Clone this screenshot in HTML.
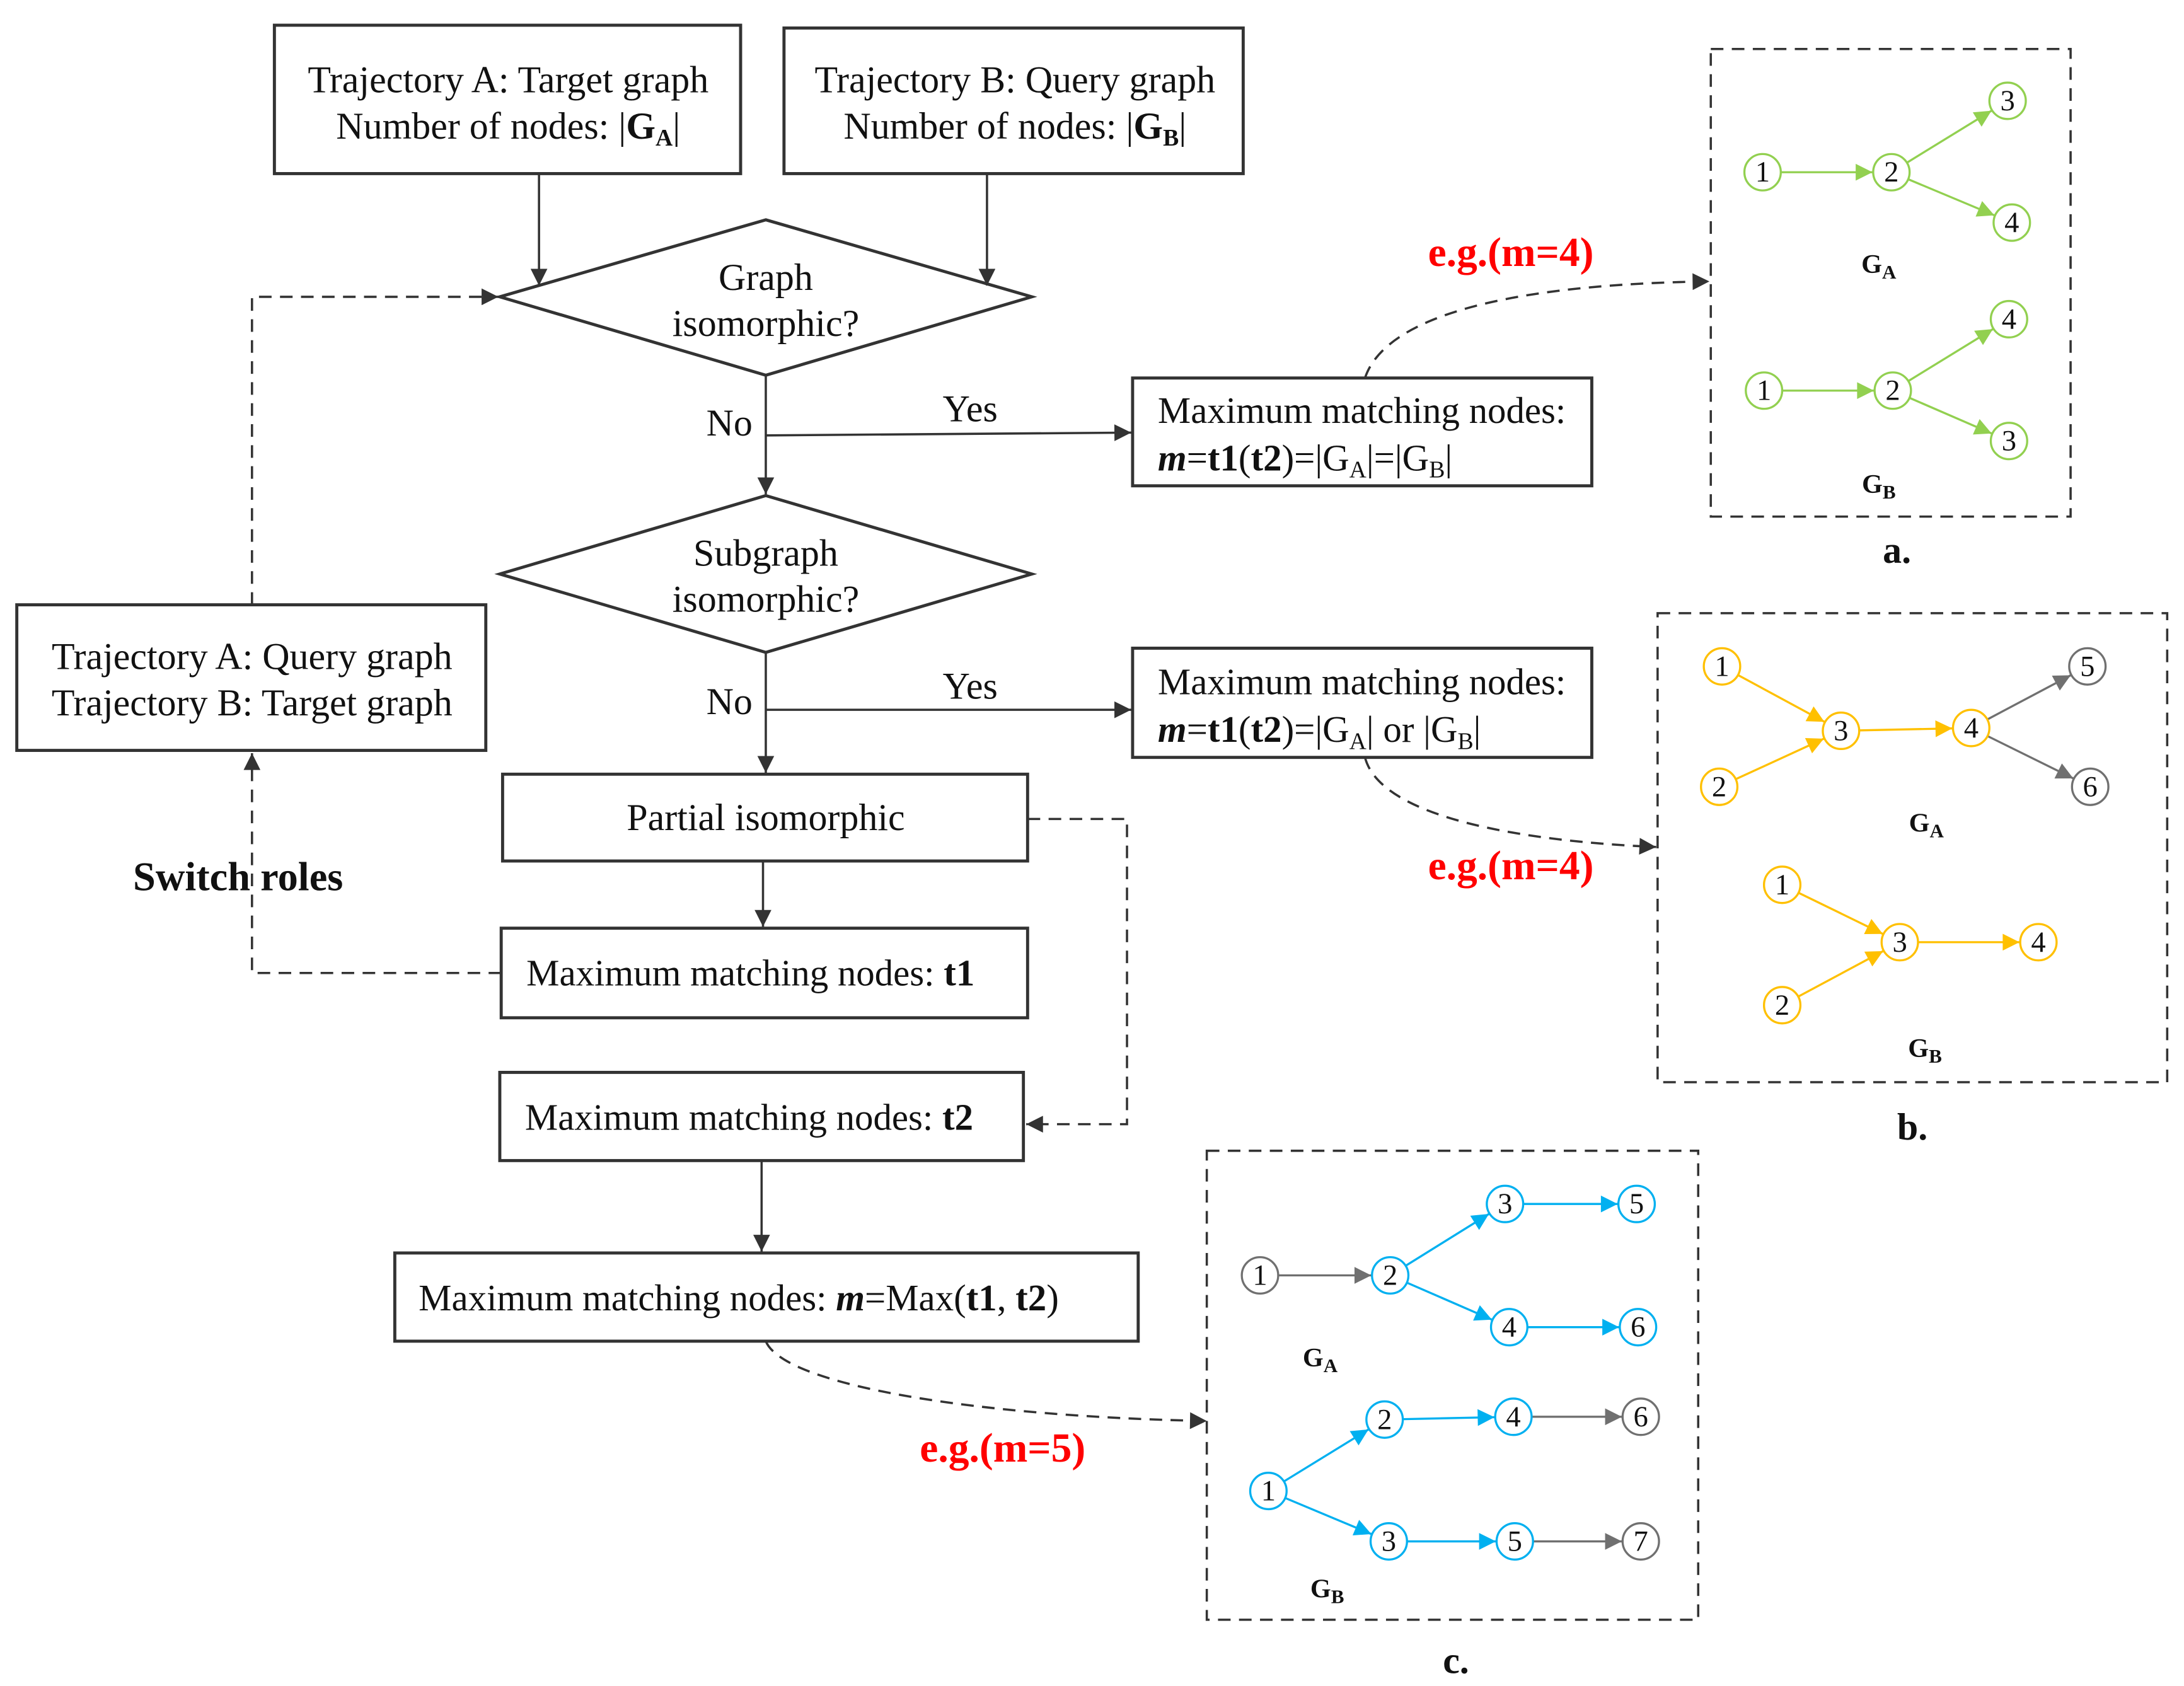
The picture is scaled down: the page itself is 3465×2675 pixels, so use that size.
<!DOCTYPE html>
<html><head><meta charset="utf-8">
<style>
html,body{margin:0;padding:0;background:#fff;}
svg{display:block;}
text{font-family:"Liberation Serif",serif;fill:#111;}
.t{font-size:27px;text-anchor:middle;}
.tl{font-size:26.5px;}
.n{font-size:21px;text-anchor:middle;dominant-baseline:central;}
.g{font-size:19px;font-weight:bold;text-anchor:middle;}
.red{font-size:29.5px;font-weight:bold;fill:#ff0000;}
</style></head>
<body>
<svg id="s" width="3465" height="2675" viewBox="0 0 1560 1204.3" xmlns="http://www.w3.org/2000/svg">
<defs>
<marker id="ak" viewBox="0 0 10 10" refX="10" refY="5" markerWidth="14" markerHeight="12" markerUnits="userSpaceOnUse" orient="auto"><path d="M0,0L10,5L0,10z" fill="#333"/></marker>
<marker id="mg" viewBox="0 0 10 10" refX="10" refY="5" markerWidth="14" markerHeight="12" markerUnits="userSpaceOnUse" orient="auto"><path d="M0,0L10,5L0,10z" fill="#92d050"/></marker>
<marker id="my" viewBox="0 0 10 10" refX="10" refY="5" markerWidth="14" markerHeight="12" markerUnits="userSpaceOnUse" orient="auto"><path d="M0,0L10,5L0,10z" fill="#ffc000"/></marker>
<marker id="mb" viewBox="0 0 10 10" refX="10" refY="5" markerWidth="14" markerHeight="12" markerUnits="userSpaceOnUse" orient="auto"><path d="M0,0L10,5L0,10z" fill="#00b0f0"/></marker>
<marker id="mr" viewBox="0 0 10 10" refX="10" refY="5" markerWidth="14" markerHeight="12" markerUnits="userSpaceOnUse" orient="auto"><path d="M0,0L10,5L0,10z" fill="#707070"/></marker>
</defs>
<g fill="none" stroke="#333" stroke-width="2.2">
<rect x="196" y="18" width="333" height="106"/>
<rect x="560" y="20" width="328" height="104"/>
<polygon points="547,157 737,212 547,268 357,212"/>
<polygon points="547,354 737,410 547,466 357,410"/>
<rect x="809" y="270" width="328" height="77"/>
<rect x="809" y="463" width="328" height="78"/>
<rect x="359" y="553" width="375" height="62"/>
<rect x="358" y="663" width="376" height="64"/>
<rect x="357" y="766" width="374" height="63"/>
<rect x="282" y="895" width="531" height="63"/>
<rect x="12" y="432" width="335" height="104"/>
</g>
<g fill="none" stroke="#333" stroke-width="1.6" marker-end="url(#ak)">
<line x1="385" y1="124" x2="385" y2="204"/>
<line x1="705" y1="124" x2="705" y2="204"/>
<line x1="547" y1="268" x2="547" y2="353"/>
<line x1="547" y1="311" x2="808" y2="309"/>
<line x1="547" y1="466" x2="547" y2="552"/>
<line x1="547" y1="507" x2="808" y2="507"/>
<line x1="545" y1="615" x2="545" y2="662"/>
<line x1="544" y1="829" x2="544" y2="894"/>
</g>
<g fill="none" stroke="#333" stroke-width="1.6" stroke-dasharray="9,6" marker-end="url(#ak)">
<polyline points="180,432 180,212 356,212"/>
<polyline points="358,695 180,695 180,538"/>
<polyline points="734,585 805,585 805,803 733,803"/>
<path d="M975,270 C990,225 1080,203 1221,201"/>
<path d="M975,541 C985,580 1070,600 1183,605"/>
<path d="M547,958 C560,990 700,1012 862,1015"/>
<rect x="1222" y="35" width="257" height="334" marker-end="none"/>
<rect x="1184" y="438" width="364" height="335" marker-end="none"/>
<rect x="862" y="822" width="351" height="335" marker-end="none"/>
</g>
<text class="t" x="363" y="66">Trajectory A: Target graph</text>
<text class="t" x="363" y="99">Number of nodes: |<tspan font-weight="bold">G<tspan font-size="17" dy="5">A</tspan></tspan><tspan dy="-5">|</tspan></text>
<text class="t" x="725" y="66">Trajectory B: Query graph</text>
<text class="t" x="725" y="99">Number of nodes:  |<tspan font-weight="bold">G<tspan font-size="17" dy="5">B</tspan></tspan><tspan dy="-5">|</tspan></text>
<text class="t" x="547" y="207">Graph</text>
<text class="t" x="547" y="240">isomorphic?</text>
<text class="t" x="547" y="404">Subgraph</text>
<text class="t" x="547" y="437">isomorphic?</text>
<text class="t" x="547" y="593">Partial isomorphic</text>
<text class="t" x="521" y="311">No</text>
<text class="t" x="693" y="301">Yes</text>
<text class="t" x="521" y="510">No</text>
<text class="t" x="693" y="499">Yes</text>
<text class="tl" x="827" y="302">Maximum matching nodes:</text>
<text class="tl" x="827" y="336"><tspan font-style="italic" font-weight="bold">m</tspan>=<tspan font-weight="bold">t1</tspan>(<tspan font-weight="bold">t2</tspan>)=|G<tspan font-size="17" dy="5">A</tspan><tspan dy="-5">|=|G</tspan><tspan font-size="17" dy="5">B</tspan><tspan dy="-5">|</tspan></text>
<text class="tl" x="827" y="496">Maximum matching nodes:</text>
<text class="tl" x="827" y="530"><tspan font-style="italic" font-weight="bold">m</tspan>=<tspan font-weight="bold">t1</tspan>(<tspan font-weight="bold">t2</tspan>)=|G<tspan font-size="17" dy="5">A</tspan><tspan dy="-5">| or |G</tspan><tspan font-size="17" dy="5">B</tspan><tspan dy="-5">|</tspan></text>
<text class="tl" x="376" y="704">Maximum matching nodes: <tspan font-weight="bold">t1</tspan></text>
<text class="tl" x="375" y="807">Maximum matching nodes: <tspan font-weight="bold">t2</tspan></text>
<text class="tl" x="299" y="936">Maximum matching nodes: <tspan font-style="italic" font-weight="bold">m</tspan>=Max(<tspan font-weight="bold">t1</tspan>, <tspan font-weight="bold">t2</tspan>)</text>
<text class="t" x="180" y="478">Trajectory A: Query graph</text>
<text class="t" x="180" y="511">Trajectory B: Target graph</text>
<text x="95" y="636" font-weight="bold" font-size="29">Switch roles</text>
<text class="red" x="1020" y="190">e.g.(m=4)</text>
<text class="red" x="1020" y="628">e.g.(m=4)</text>
<text class="red" x="657" y="1044">e.g.(m=5)</text>
<text class="t" x="1355" y="402" font-weight="bold">a.</text>
<text class="t" x="1366" y="814" font-weight="bold">b.</text>
<text class="t" x="1040" y="1195" font-weight="bold">c.</text>
<text class="g" x="1342" y="195">G<tspan font-size="14" dy="4">A</tspan></text>
<text class="g" x="1342" y="352">G<tspan font-size="14" dy="4">B</tspan></text>
<text class="g" x="1376" y="594">G<tspan font-size="14" dy="4">A</tspan></text>
<text class="g" x="1375" y="755">G<tspan font-size="14" dy="4">B</tspan></text>
<text class="g" x="943" y="976">G<tspan font-size="14" dy="4">A</tspan></text>
<text class="g" x="948" y="1141">G<tspan font-size="14" dy="4">B</tspan></text>
<g id="edges"></g>
<g fill="#fff" stroke-width="1.5">
<circle cx="1259" cy="123" r="13" stroke="#92d050"/><circle cx="1351" cy="123" r="13" stroke="#92d050"/><circle cx="1434" cy="72" r="13" stroke="#92d050"/><circle cx="1437" cy="159" r="13" stroke="#92d050"/>
<circle cx="1260" cy="279" r="13" stroke="#92d050"/><circle cx="1352" cy="279" r="13" stroke="#92d050"/><circle cx="1435" cy="228" r="13" stroke="#92d050"/><circle cx="1435" cy="315" r="13" stroke="#92d050"/>
<circle cx="1230" cy="476" r="13" stroke="#ffc000"/><circle cx="1228" cy="562" r="13" stroke="#ffc000"/><circle cx="1315" cy="522" r="13" stroke="#ffc000"/><circle cx="1408" cy="520" r="13" stroke="#ffc000"/><circle cx="1491" cy="476" r="13" stroke="#707070"/><circle cx="1493" cy="562" r="13" stroke="#707070"/>
<circle cx="1273" cy="632" r="13" stroke="#ffc000"/><circle cx="1273" cy="718" r="13" stroke="#ffc000"/><circle cx="1357" cy="673" r="13" stroke="#ffc000"/><circle cx="1456" cy="673" r="13" stroke="#ffc000"/>
<circle cx="900" cy="911" r="13" stroke="#707070"/><circle cx="993" cy="911" r="13" stroke="#00b0f0"/><circle cx="1075" cy="860" r="13" stroke="#00b0f0"/><circle cx="1169" cy="860" r="13" stroke="#00b0f0"/><circle cx="1078" cy="948" r="13" stroke="#00b0f0"/><circle cx="1170" cy="948" r="13" stroke="#00b0f0"/>
<circle cx="989" cy="1014" r="13" stroke="#00b0f0"/><circle cx="1081" cy="1012" r="13" stroke="#00b0f0"/><circle cx="1172" cy="1012" r="13" stroke="#707070"/><circle cx="906" cy="1065" r="13" stroke="#00b0f0"/><circle cx="992" cy="1101" r="13" stroke="#00b0f0"/><circle cx="1082" cy="1101" r="13" stroke="#00b0f0"/><circle cx="1172" cy="1101" r="13" stroke="#707070"/>
</g>
<g>
<text class="n" x="1259" y="123">1</text><text class="n" x="1351" y="123">2</text><text class="n" x="1434" y="72">3</text><text class="n" x="1437" y="159">4</text>
<text class="n" x="1260" y="279">1</text><text class="n" x="1352" y="279">2</text><text class="n" x="1435" y="228">4</text><text class="n" x="1435" y="315">3</text>
<text class="n" x="1230" y="476">1</text><text class="n" x="1228" y="562">2</text><text class="n" x="1315" y="522">3</text><text class="n" x="1408" y="520">4</text><text class="n" x="1491" y="476">5</text><text class="n" x="1493" y="562">6</text>
<text class="n" x="1273" y="632">1</text><text class="n" x="1273" y="718">2</text><text class="n" x="1357" y="673">3</text><text class="n" x="1456" y="673">4</text>
<text class="n" x="900" y="911">1</text><text class="n" x="993" y="911">2</text><text class="n" x="1075" y="860">3</text><text class="n" x="1169" y="860">5</text><text class="n" x="1078" y="948">4</text><text class="n" x="1170" y="948">6</text>
<text class="n" x="989" y="1014">2</text><text class="n" x="1081" y="1012">4</text><text class="n" x="1172" y="1012">6</text><text class="n" x="906" y="1065">1</text><text class="n" x="992" y="1101">3</text><text class="n" x="1082" y="1101">5</text><text class="n" x="1172" y="1101">7</text>
</g>
</svg>
<script>
(function(){
var C={g:"#92d050",y:"#ffc000",b:"#00b0f0",r:"#707070"};
var E=[
["g",1259,123,1351,123],["g",1351,123,1434,72],["g",1351,123,1437,159],
["g",1260,279,1352,279],["g",1352,279,1435,228],["g",1352,279,1435,315],
["y",1230,476,1315,522],["y",1228,562,1315,522],["y",1315,522,1408,520],["r",1408,520,1491,476],["r",1408,520,1493,562],
["y",1273,632,1357,673],["y",1273,718,1357,673],["y",1357,673,1456,673],
["r",900,911,993,911],["b",993,911,1075,860],["b",993,911,1078,948],["b",1075,860,1169,860],["b",1078,948,1170,948],
["b",906,1065,989,1014],["b",906,1065,992,1101],["b",989,1014,1081,1012],["b",992,1101,1082,1101],["r",1081,1012,1172,1012],["r",1082,1101,1172,1101]
];
var g=document.getElementById("edges"),ns="http://www.w3.org/2000/svg",r=13.5;
E.forEach(function(e){
var dx=e[3]-e[1],dy=e[4]-e[2],L=Math.sqrt(dx*dx+dy*dy),ux=dx/L,uy=dy/L;
var l=document.createElementNS(ns,"line");
l.setAttribute("x1",e[1]+ux*r);l.setAttribute("y1",e[2]+uy*r);
l.setAttribute("x2",e[3]-ux*r);l.setAttribute("y2",e[4]-uy*r);
l.setAttribute("stroke",C[e[0]]);l.setAttribute("stroke-width","1.5");
l.setAttribute("marker-end","url(#m"+e[0]+")");
g.appendChild(l);
});
})();
</script>
</body></html>
